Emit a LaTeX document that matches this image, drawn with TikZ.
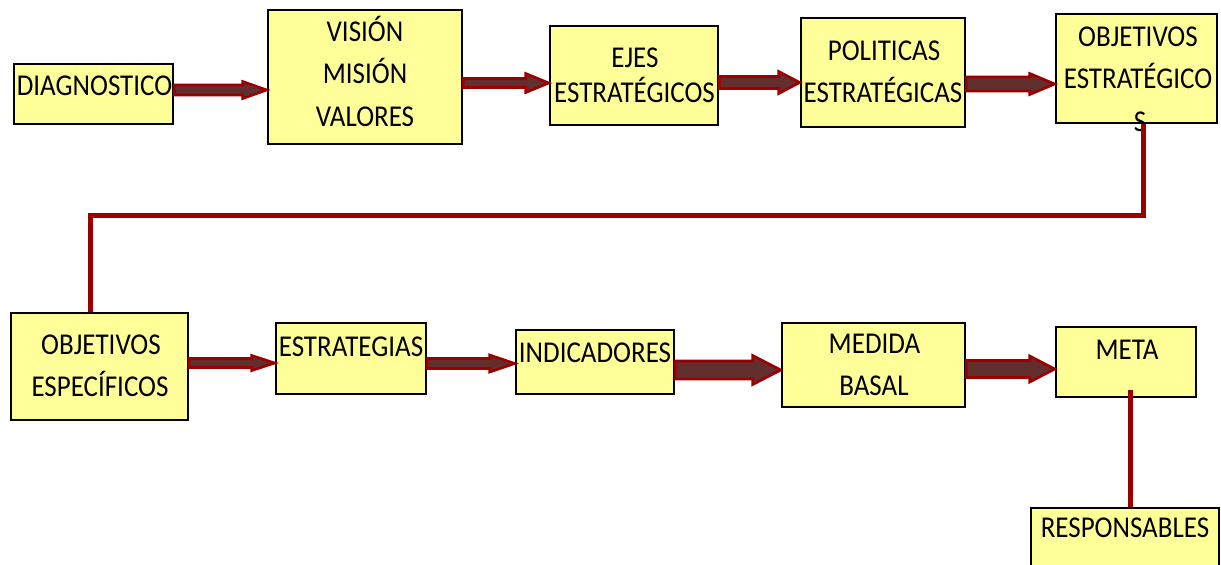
\documentclass[tikz,border=0pt]{standalone}
\usepackage{fontspec}
\setmainfont{Carlito}
\usetikzlibrary{calc}
\definecolor{boxyellow}{RGB}{255,255,153}
\definecolor{arrowfill}{RGB}{98,46,46}
\definecolor{arrowline}{RGB}{155,0,0}
\newcommand{\blockarrow}[6]{%
  \path[barrowstyle] let \p1=(#1.east), \p2=(#2.west), \p3=(0,#3) in
   (\x1,{\y3+#4*0.5pt}) -- ({\x2-#6*0.5pt},{\y3+#4*0.5pt}) -- ({\x2-#6*0.5pt},{\y3+#5*0.5pt})
   -- (\x2,\y3) -- ({\x2-#6*0.5pt},{\y3-#5*0.5pt}) -- ({\x2-#6*0.5pt},{\y3-#4*0.5pt})
   -- (\x1,{\y3-#4*0.5pt}) -- cycle;
}
\newcommand{\tallt}[1]{\scalebox{1}[1.12]{#1}}
\tikzset{
  box/.style={draw=black, fill=boxyellow, line width=1.25pt, rectangle, inner sep=0pt},
  txt/.style={anchor=base, inner sep=0pt, font=\fontsize{13.5pt}{21.5pt}\selectfont},
  barrowstyle/.style={draw=arrowline, fill=arrowfill, line width=1.3pt, line join=miter},
  conn/.style={draw=arrowline, line width=2.5pt}
}
\begin{document}
\begin{tikzpicture}[x=0.5pt, y=-0.5pt]
\useasboundingbox (0,0) rectangle (1221,564);
\fill[white] (0,0) rectangle (1221,564);
\clip (0,0) rectangle (1221,564);

% boxes
\node[box, minimum width=79.5pt, minimum height=30pt] (diag) at (93.5,94) {};
\node[box, minimum width=97pt, minimum height=67pt] (vis) at (365,77) {};
\node[box, minimum width=84pt, minimum height=49.5pt] (ejes) at (634,75.5) {};
\node[box, minimum width=82pt, minimum height=54.5pt] (pol) at (883,72.5) {};
\node[box, minimum width=80.5pt, minimum height=54.5pt] (oest) at (1136.5,68.5) {};
\node[box, minimum width=88.5pt, minimum height=53.5pt] (oesp) at (99.5,366.5) {};
\node[box, minimum width=75pt, minimum height=35.5pt] (estr) at (351,358.5) {};
\node[box, minimum width=79pt, minimum height=32pt] (ind) at (595,362) {};
\node[box, minimum width=91.5pt, minimum height=42pt] (med) at (873.5,365) {};
\node[box, minimum width=70pt, minimum height=35pt] (meta) at (1126,362) {};
\node[box, minimum width=94pt, minimum height=36pt] (resp) at (1125,544) {};

% texts
\node[txt] (t1) at (94.5,95) {\tallt{DIAGNOSTICO}};
\node[txt] (t2a) at (365,41) {\tallt{VISIÓN}};
\node[txt] (t2b) at (365,83) {\tallt{MISIÓN}};
\node[txt] (t2c) at (365,126) {\tallt{VALORES}};
\node[txt] (t3a) at (635,67) {\tallt{EJES}};
\node[txt] (t3b) at (634.5,102) {\tallt{ESTRATÉGICOS}};
\node[txt] (t4a) at (884,60) {\tallt{POLITICAS}};
\node[txt] (t4b) at (883,102) {\tallt{ESTRATÉGICAS}};
\node[txt] (t5a) at (1138,46) {\tallt{OBJETIVOS}};
\node[txt] (t5b) at (1138,88) {\tallt{ESTRATÉGICO}};
\node[txt] (t5c) at (1140,131) {\tallt{S}};
\node[txt] (t6a) at (101,354) {\tallt{OBJETIVOS}};
\node[txt] (t6b) at (100,396) {\tallt{ESPECÍFICOS}};
\node[txt] (t7) at (351,356) {\tallt{ESTRATEGIAS}};
\node[txt] (t8) at (595,362) {\tallt{INDICADORES}};
\node[txt] (t9a) at (874.5,353) {\tallt{MEDIDA}};
\node[txt] (t9b) at (874,395) {\tallt{BASAL}};
\node[txt] (t10) at (1127,359) {\tallt{META}};
\node[txt] (t11) at (1125,537) {\tallt{RESPONSABLES}};

% connectors
\coordinate (k1) at (1143,215);
\coordinate (k2) at (90,215);
\draw[conn] (oest.south -| k1) -- (k1) -- (k2) -- (oesp.north -| k2);
\coordinate (m1) at (1130,390);
\draw[conn] (m1) -- (m1 |- resp.north);

% block arrows
\blockarrow{diag}{vis}{90}{5}{8.5}{24}
\blockarrow{vis}{ejes}{83}{4.5}{9.5}{23}
\blockarrow{ejes}{pol}{82.5}{6}{11}{21}
\blockarrow{pol}{oest}{84}{7}{10.5}{25}
\blockarrow{oesp}{estr}{363}{4.5}{7.5}{23}
\blockarrow{estr}{ind}{363.5}{5}{8.5}{25}
\blockarrow{ind}{med}{370}{9}{14.5}{28}
\blockarrow{med}{meta}{369}{8.5}{13}{25}
\end{tikzpicture}
\end{document}
